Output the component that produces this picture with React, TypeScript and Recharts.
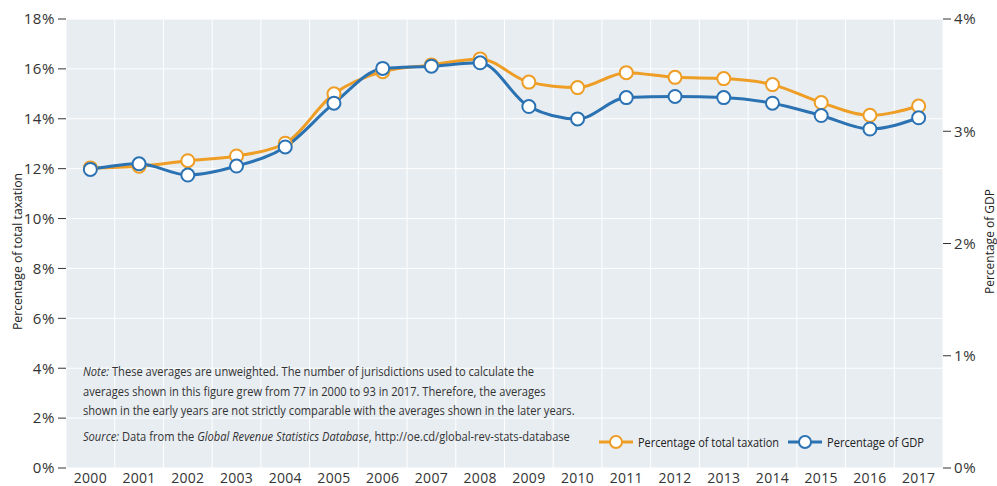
import React from 'react';
import { ComposedChart, Line, XAxis, YAxis, CartesianGrid, Legend } from 'recharts';

const years = [2000, 2001, 2002, 2003, 2004, 2005, 2006, 2007, 2008, 2009, 2010, 2011, 2012, 2013, 2014, 2015, 2016, 2017];
const taxShare = [12.03, 12.1, 12.32, 12.51, 13.02, 15.0, 15.89, 16.16, 16.4, 15.47, 15.25, 15.85, 15.66, 15.61, 15.37, 14.65, 14.14, 14.51];
const gdpShare = [2.66, 2.71, 2.61, 2.69, 2.86, 3.25, 3.56, 3.58, 3.61, 3.22, 3.11, 3.3, 3.31, 3.3, 3.25, 3.14, 3.02, 3.12];
const leftTicks = [0, 2, 4, 6, 8, 10, 12, 14, 16, 18];
const rightTicks = [0, 1, 2, 3, 4];
const yearBoundaries = [1999.5, 2000.5, 2001.5, 2002.5, 2003.5, 2004.5, 2005.5, 2006.5, 2007.5, 2008.5, 2009.5, 2010.5, 2011.5, 2012.5, 2013.5, 2014.5, 2015.5, 2016.5, 2017.5];
const seriesOrder = ['tax', 'gdp'];

const data = years.map((year, i) => ({ year, tax: taxShare[i], gdp: gdpShare[i] }));

const ORANGE = '#EE9D25';
const BLUE = '#2B72B3';
const TEXT = '#333333';
const FONT = '"Open Sans", sans-serif';
const SQUEEZE = 0.855;

const legendTextWidth: Record<string, number> = { tax: 141, gdp: 97 };
const legendItemStart: Record<string, number> = { tax: 0, gdp: 189 };

const renderLegend = (props: any) => {
  const payload = [...(props.payload || [])].sort(
    (a: any, b: any) => seriesOrder.indexOf(a.dataKey) - seriesOrder.indexOf(b.dataKey)
  );
  return (
    <svg width={380} height={18} style={{ display: 'block', overflow: 'visible' }}>
      {payload.map((e: any, i: number) => {
        const x0 = legendItemStart[e.dataKey] ?? i * 190;
        const tw = legendTextWidth[e.dataKey] || 100;
        return (
          <g key={i}>
            <line x1={x0} x2={x0 + 34} y1={9} y2={9} stroke={e.color} strokeWidth={3} />
            <circle cx={x0 + 17} cy={9} r={6} fill="#fff" stroke={e.color} strokeWidth={2} />
            <text
              x={x0 + 39}
              y={13.5}
              fontFamily={FONT}
              fontSize={13}
              fill="#222"
              textLength={tw}
              lengthAdjust="spacingAndGlyphs"
            >
              {e.value}
            </text>
          </g>
        );
      })}
    </svg>
  );
};

const makeTitle = (dx: number, len: number | undefined, dy: number, size: number) => (props: any) => {
  const { viewBox, value } = props;
  const cx = viewBox.x + dx;
  const cy = viewBox.y + viewBox.height / 2 + dy;
  const extra = len ? { textLength: len, lengthAdjust: 'spacingAndGlyphs' } : {};
  return (
    <text
      x={cx}
      y={cy}
      transform={`rotate(-90 ${cx} ${cy})`}
      textAnchor="middle"
      dominantBaseline="central"
      fontFamily={FONT}
      fontSize={size}
      fill="#222"
      {...(extra as any)}
    >
      {value}
    </text>
  );
};

export default function App() {
  return (
    <div style={{ position: 'absolute', left: 0, top: 0, width: 997, height: 486, background: '#fff', overflow: 'hidden' }}>
      <ComposedChart width={997} height={486} data={data} margin={{ top: 19, right: 0, bottom: 0, left: 0 }}>
        <CartesianGrid xAxisId="b" yAxisId="left" fill="#E8EDF2" stroke="#ffffff" strokeWidth={1} />
        <XAxis
          xAxisId="b"
          type="number"
          dataKey="year"
          domain={[1999.5, 2017.5]}
          ticks={yearBoundaries}
          tickFormatter={() => ''}
          height={0}
          tickSize={3}
          axisLine={{ stroke: '#333', strokeWidth: 1.2 }}
          tickLine={{ stroke: '#333' }}
          allowDataOverflow
        />
        <XAxis
          xAxisId="a"
          type="number"
          dataKey="year"
          domain={[1999.5, 2017.5]}
          ticks={years}
          interval={0}
          height={18}
          axisLine={false}
          tickLine={false}
          tickSize={0}
          tickMargin={5}
          tick={{ fill: TEXT, fontSize: 14, fontFamily: FONT, letterSpacing: 0.3 }}
          allowDataOverflow
        />
        <YAxis
          yAxisId="left"
          width={66}
          domain={[0, 18]}
          ticks={leftTicks}
          tickFormatter={(v: number) => `${v}%`}
          axisLine={false}
          tickLine={{ stroke: '#333' }}
          tickSize={8}
          tickMargin={3}
          tick={{ fill: TEXT, fontSize: 15, fontFamily: FONT, letterSpacing: 0.6 }}
          label={{ value: 'Percentage of total taxation', content: makeTitle(17, 157, 8, 13) }}
        />
        <YAxis
          yAxisId="right"
          orientation="right"
          width={54}
          domain={[0, 4]}
          ticks={rightTicks}
          tickFormatter={(v: number) => `${v}%`}
          axisLine={false}
          tickLine={{ stroke: '#333' }}
          tickSize={8}
          tickMargin={3}
          tick={{ fill: TEXT, fontSize: 15, fontFamily: FONT, letterSpacing: 0.6 }}
          label={{ value: 'Percentage of GDP', content: makeTitle(46, undefined, -2, 12) }}
        />
        <Legend
          layout="horizontal"
          verticalAlign="middle"
          align="center"
          content={renderLegend}
          wrapperStyle={{ position: 'absolute', left: 599, top: 433, width: 'auto' }}
        />
        <Line
          xAxisId="a"
          yAxisId="left"
          type="monotone"
          dataKey="tax"
          name="Percentage of total taxation"
          stroke={ORANGE}
          strokeWidth={3}
          dot={{ r: 6.5, fill: '#fff', stroke: ORANGE, strokeWidth: 2 }}
          activeDot={false}
          isAnimationActive={false}
        />
        <Line
          xAxisId="a"
          yAxisId="right"
          type="monotone"
          dataKey="gdp"
          name="Percentage of GDP"
          stroke={BLUE}
          strokeWidth={3}
          dot={{ r: 6.5, fill: '#fff', stroke: BLUE, strokeWidth: 2 }}
          activeDot={false}
          isAnimationActive={false}
        />
      </ComposedChart>
      <div
        style={{
          position: 'absolute',
          left: 83,
          top: 362,
          fontFamily: FONT,
          fontSize: 13,
          lineHeight: '19.5px',
          color: '#333',
          whiteSpace: 'nowrap',
          transform: `scaleX(${SQUEEZE})`,
          transformOrigin: 'left top',
        }}
      >
        <div>
          <i>Note:</i> These averages are unweighted. The number of jurisdictions used to calculate the
        </div>
        <div>averages shown in this figure grew from 77 in 2000 to 93 in 2017. Therefore, the averages</div>
        <div>shown in the early years are not strictly comparable with the averages shown in the later years.</div>
        <div style={{ marginTop: 6 }}>
          <i>Source:</i> Data from the <i>Global Revenue Statistics Database</i>, http://oe.cd/global-rev-stats-database
        </div>
      </div>
    </div>
  );
}
